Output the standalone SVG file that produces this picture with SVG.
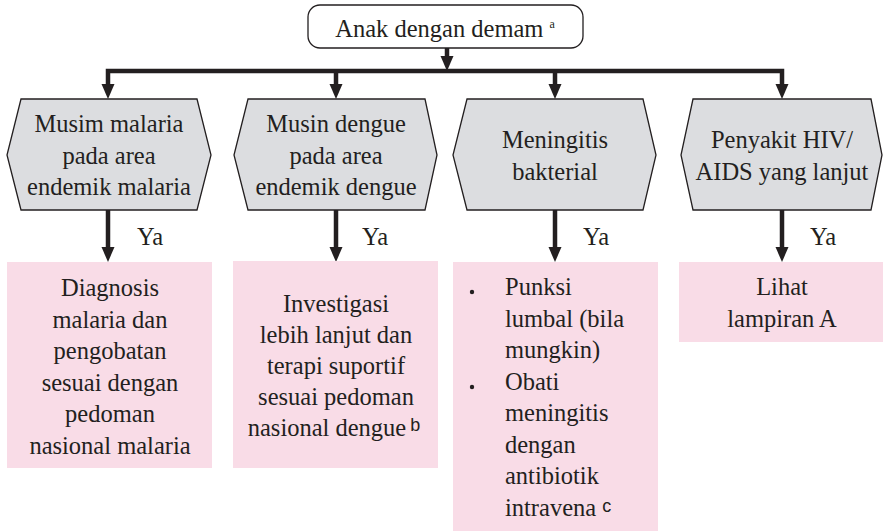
<svg xmlns="http://www.w3.org/2000/svg" width="883" height="531" viewBox="0 0 883 531">
  <style>
    .t { font-family: "Liberation Serif", "DejaVu Serif", "Times New Roman", serif; font-size: 24.5px; fill: #231f20; }
    .c { text-anchor: middle; }
    .sup { font-family: "Liberation Sans", "DejaVu Sans", Arial, sans-serif; font-size: 18px; }
    .sm { font-size: 12px; }
    .hex { fill: #dcdde0; stroke: #231f20; stroke-width: 1.3; }
    .pink { fill: #f9dce7; }
    .wire { stroke: #231f20; stroke-width: 4.5; fill: none; }
    .head { fill: #231f20; }
  </style>
  <defs>
    <path id="ah" d="M -6.5 -15 L 6.5 -15 L 0 0 Z"/>
  </defs>

  <!-- connectors -->
  <g id="connectors">
    <line class="wire" x1="447" y1="48" x2="447" y2="58"/>
    <use href="#ah" class="head" x="447" y="71"/>
    <path class="wire" d="M 108 85 V 71 H 782 V 85"/>
    <line class="wire" x1="336" y1="71" x2="336" y2="85"/>
    <line class="wire" x1="555" y1="71" x2="555" y2="85"/>
    <use href="#ah" class="head" x="108" y="99"/>
    <use href="#ah" class="head" x="336" y="99"/>
    <use href="#ah" class="head" x="555" y="99"/>
    <use href="#ah" class="head" x="782" y="99"/>

    <line class="wire" x1="108" y1="210" x2="108" y2="249"/>
    <line class="wire" x1="336" y1="210" x2="336" y2="249"/>
    <line class="wire" x1="555" y1="210" x2="555" y2="249"/>
    <line class="wire" x1="782" y1="210" x2="782" y2="249"/>
    <use href="#ah" class="head" x="108" y="262"/>
    <use href="#ah" class="head" x="336" y="262"/>
    <use href="#ah" class="head" x="555" y="262"/>
    <use href="#ah" class="head" x="782" y="262"/>

    <text class="t" x="137" y="245">Ya</text>
    <text class="t" x="362" y="245">Ya</text>
    <text class="t" x="583" y="245">Ya</text>
    <text class="t" x="810" y="245">Ya</text>
  </g>

  <!-- start node -->
  <g id="start">
    <rect x="308" y="5" width="275" height="43" rx="12" fill="#ffffff" stroke="#231f20" stroke-width="1.3"/>
    <text class="t c" x="445" y="37">Anak dengan demam<tspan class="sm" dx="6" dy="-9">a</tspan></text>
  </g>

  <!-- decision nodes -->
  <g id="malaria">
    <polygon class="hex" points="21,99 197,99 211,155 197,210 21,210 7,155"/>
    <text class="t c" x="109" y="132">Musim malaria</text>
    <text class="t c" x="109" y="163.5">pada area</text>
    <text class="t c" x="109" y="195">endemik malaria</text>
  </g>
  <g id="dengue">
    <polygon class="hex" points="248,99 425,99 437,155 425,210 248,210 234,155"/>
    <text class="t c" x="336" y="132">Musin dengue</text>
    <text class="t c" x="336" y="163.5">pada area</text>
    <text class="t c" x="336" y="195">endemik dengue</text>
  </g>
  <g id="meningitis">
    <polygon class="hex" points="467,99 643,99 656,155 643,210 467,210 453,155"/>
    <text class="t c" x="555" y="148">Meningitis</text>
    <text class="t c" x="555" y="180">bakterial</text>
  </g>
  <g id="hiv">
    <polygon class="hex" points="693,99 871,99 882,155 871,210 693,210 681,155"/>
    <text class="t c" x="782" y="148">Penyakit HIV/</text>
    <text class="t c" x="782" y="180">AIDS yang lanjut</text>
  </g>

  <!-- action nodes -->
  <g id="malaria-action">
    <rect class="pink" x="7" y="262" width="205" height="206"/>
    <text class="t c" x="110" y="296">Diagnosis</text>
    <text class="t c" x="110" y="327.5">malaria dan</text>
    <text class="t c" x="110" y="359">pengobatan</text>
    <text class="t c" x="110" y="390.5">sesuai dengan</text>
    <text class="t c" x="110" y="422">pedoman</text>
    <text class="t c" x="110" y="453.5">nasional malaria</text>
  </g>
  <g id="dengue-action">
    <rect class="pink" x="233" y="261" width="205" height="207"/>
    <text class="t c" x="336" y="312">Investigasi</text>
    <text class="t c" x="336" y="343">lebih lanjut dan</text>
    <text class="t c" x="336" y="374">terapi suportif</text>
    <text class="t c" x="336" y="405">sesuai pedoman</text>
    <text class="t c" x="334" y="436">nasional dengue<tspan class="sup" dx="4" dy="-5">b</tspan></text>
  </g>
  <g id="meningitis-action">
    <rect class="pink" x="453" y="262" width="205" height="269"/>
    <circle cx="472" cy="292" r="2.2" fill="#231f20"/>
    <circle cx="472" cy="387" r="2.2" fill="#231f20"/>
    <text class="t" x="505" y="295">Punksi</text>
    <text class="t" x="505" y="326.5">lumbal (bila</text>
    <text class="t" x="505" y="358">mungkin)</text>
    <text class="t" x="505" y="389.5">Obati</text>
    <text class="t" x="505" y="421">meningitis</text>
    <text class="t" x="505" y="452.5">dengan</text>
    <text class="t" x="505" y="484">antibiotik</text>
    <text class="t" x="505" y="515.5">intravena<tspan class="sup" dx="6" dy="-4">c</tspan></text>
  </g>
  <g id="hiv-action">
    <rect class="pink" x="679" y="262" width="204" height="80"/>
    <text class="t c" x="782" y="295">Lihat</text>
    <text class="t c" x="782" y="327">lampiran A</text>
  </g>
</svg>
